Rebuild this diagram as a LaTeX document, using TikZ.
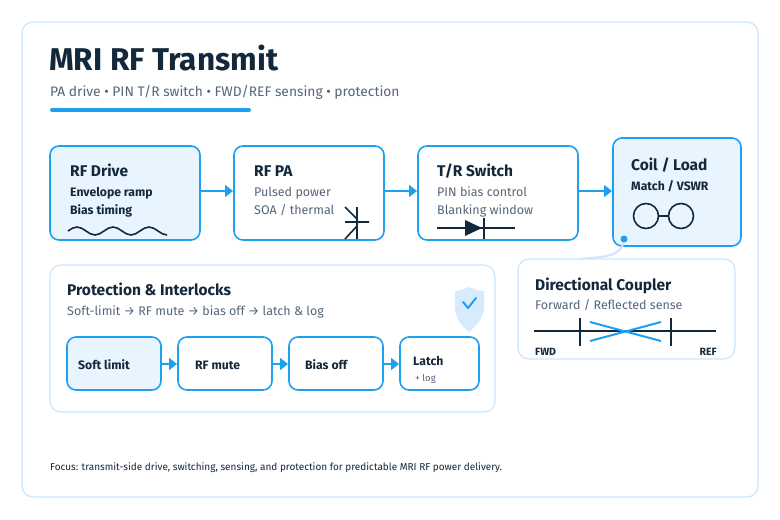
\documentclass[tikz,border=0pt]{standalone}
\usepackage{fontspec}
\setmainfont{Fira Sans}
\usetikzlibrary{arrows.meta}
\definecolor{blu}{HTML}{1EA0F0}
\definecolor{pale}{HTML}{E8F4FE}
\definecolor{card}{HTML}{CDE6FB}
\definecolor{ink}{HTML}{14283C}
\definecolor{gr}{HTML}{56667A}
\begin{document}
\begin{tikzpicture}[x=1pt,y=-1pt,every node/.style={inner sep=0pt},
  box/.style={draw=blu,line width=1.6pt,rounded corners=9pt,fill=white},
  fbox/.style={box,fill=pale},
  cardst/.style={draw=card,line width=1.2pt,rounded corners=11pt,fill=white},
  arr/.style={blu,line width=2.8pt,-{Triangle[length=8pt,width=12pt]}},
  ttl/.style={anchor=base west,text=ink,font=\fontsize{15.5}{17}\selectfont\bfseries},
  sub/.style={anchor=base west,text=gr,font=\fontsize{12.5}{14}\selectfont},
  dsub/.style={anchor=base west,text=ink,font=\fontsize{12.2}{14}\selectfont\bfseries},
  sym/.style={ink,line width=1.6pt}]
\useasboundingbox (0,0) rectangle (780,520);
\fill[white] (0,0) rectangle (780,520);
\draw[cardst] (22,22) rectangle (758,497);
\node[anchor=base west,text=ink,font=\fontsize{31.5}{34}\selectfont\bfseries] (title) at (49,70) {MRI RF Transmit};
\node[anchor=base west,text=gr,font=\fontsize{13.8}{16}\selectfont] (subt) at (50,96) {PA drive • PIN T/R switch • FWD/REF sensing • protection};
\draw[blu,line width=4pt,line cap=round] (52,110) -- (249,110);
% main chain
\draw[fbox] (50,146) rectangle (200,240);
\node[ttl] at (70,176) {RF Drive};
\node[dsub] at (70,196) {Envelope ramp};
\node[dsub] at (70,214) {Bias timing};
\draw[sym] (68,231) sin (77,227) cos (86,231) sin (95,235) cos (104,231) sin (113,227) cos (122,231) sin (131,235) cos (140,231) sin (149,227) cos (158,231) sin (167,235);
\draw[box] (234,146) rectangle (384,240);
\node[ttl] at (254,176) {RF PA};
\node[sub] at (254,196) {Pulsed power};
\node[sub] at (254,214) {SOA / thermal};
\draw[sym] (357,207) -- (357,239) (345,222) -- (369,222) (345,207) -- (357,219) (345,239) -- (357,226);
\draw[box] (418,146) rectangle (578,240);
\node[ttl] at (437,176) {T/R Switch};
\node[sub] at (437,196) {PIN bias control};
\node[sub] at (437,214) {Blanking window};
\draw[sym] (437,228) -- (515,228) (484,218) -- (484,239);
\fill[ink] (465,220) -- (465,236) -- (482,228) -- cycle;
\draw[fbox] (613,138) rectangle (741,246);
\node[ttl] at (631,170) {Coil / Load};
\node[dsub] at (631,190) {Match / VSWR};
\draw[sym] (646,216) circle (12.5) (681,216) circle (12.5) (658.5,216) -- (668.5,216);
\draw[arr] (201,191) -- (233,191);
\draw[arr] (385,191) -- (417,191);
\draw[arr] (579,191) -- (612,191);
% coupler
\draw[card,line width=2pt] (624,240) .. controls (622,258) and (600,257) .. (580,259);
\fill[blu] (624,239) circle (3.5);
\draw[cardst] (518,259) rectangle (735,359);
\node[ttl] at (535,290) {Directional Coupler};
\node[sub] at (535,309) {Forward / Reflected sense};
\draw[sym] (534,331) -- (716,331) (580,318) -- (580,346) (671,318) -- (671,346);
\draw[blu,line width=2pt] (590,322) -- (661,341) (590,341) -- (661,322);
\node[anchor=base west,text=ink,font=\fontsize{10.5}{11}\selectfont\bfseries] at (535,355) {FWD};
\node[anchor=base east,text=ink,font=\fontsize{10.5}{11}\selectfont\bfseries] at (717,355) {REF};
% protection
\draw[cardst] (50,265) rectangle (495,412);
\node[ttl] at (67,295) {Protection \& Interlocks};
\node[sub] at (67,315) {Soft-limit → RF mute → bias off → latch \& log};
\fill[card!80!white] (469,287) .. controls (460,291) and (456,291) .. (455,291) -- (455,309) .. controls (456,320) and (462,326) .. (469,332) .. controls (476,326) and (482,320) .. (484,309) -- (484,291) .. controls (482,291) and (478,291) .. (469,287) -- cycle;
\draw[blu,line width=2pt,line cap=round,line join=round] (463,302) -- (468,308) -- (476,298);
\draw[fbox] (67,337) rectangle (161,390);
\node[dsub] at (78,369) {Soft limit};
\draw[box] (178,337) rectangle (272,390);
\node[dsub] at (195,369) {RF mute};
\draw[box] (289,337) rectangle (383,390);
\node[dsub] at (305,369) {Bias off};
\draw[box] (400,337) rectangle (479,390);
\node[dsub] at (413,365) {Latch};
\node[anchor=base west,text=gr,font=\fontsize{9.5}{10}\selectfont] at (415,381) {+ log};
\draw[arr] (162,364) -- (177,364);
\draw[arr] (273,364) -- (288,364);
\draw[arr] (384,364) -- (399,364);
\node[anchor=base west,text=ink,font=\fontsize{10}{12}\selectfont] at (50,470) {Focus: transmit-side drive, switching, sensing, and protection for predictable MRI RF power delivery.};
\end{tikzpicture}
\end{document}
